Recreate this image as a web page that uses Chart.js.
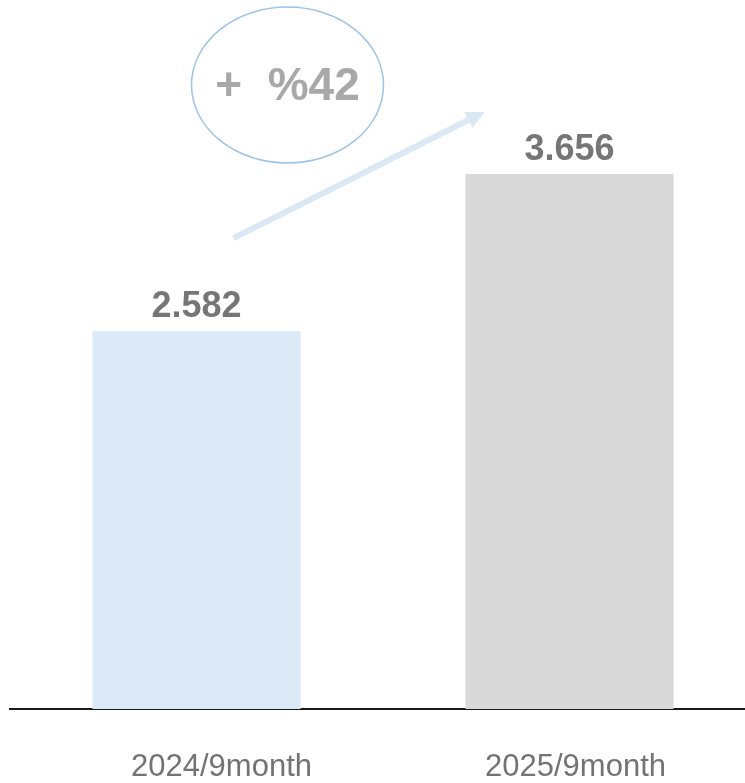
<!DOCTYPE html>
<html lang="en">
<head>
  <meta charset="UTF-8">
  <title>9 month comparison</title>
  <script src="https://cdn.jsdelivr.net/npm/chart.js"></script>
  <style>
    html, body { margin: 0; padding: 0; background: #fff; overflow: hidden; }
    #wrap { width: 756px; height: 783px; }
  </style>
</head>
<body>
  <div id="wrap">
    <canvas id="growthChart" width="756" height="783"></canvas>
  </div>

  <script>
    // chart data
    const periods = ['2024/9month', '2025/9month'];
    const totals = [2582, 3656];
    const barColors = ['#dce9f6', '#d9d9d9'];

    // growth percentage shown in the bubble
    const growth = Math.round((totals[1] / totals[0] - 1) * 100);

    // category labels, value labels, ellipse + arrow annotation
    const annotate = {
      id: 'annotate',
      afterDatasetsDraw(chart) {
        const ctx = chart.ctx;
        const bars = chart.getDatasetMeta(0).data;
        const xScale = chart.scales.x;

        ctx.save();
        ctx.textAlign = 'center';

        // category labels (sit a little right of the bar centres in the original)
        const labelShift = [25, 6];
        ctx.fillStyle = '#737373';
        ctx.font = '31px "Liberation Sans", Arial, sans-serif';
        ctx.textBaseline = 'alphabetic';
        periods.forEach((p, i) => {
          ctx.fillText(p, xScale.getPixelForValue(i) + labelShift[i], chart.chartArea.bottom + 67);
        });

        ctx.fillStyle = '#767676';
        ctx.font = 'bold 36px "Liberation Sans", Arial, sans-serif';
        bars.forEach((bar, i) => {
          ctx.fillText(totals[i].toLocaleString('de-DE'), bar.x, bar.y - 14);
        });

        // arrow from first bar towards second
        const x0 = bars[0].x + 37, y0 = bars[0].y - 93;
        const x1 = bars[1].x - 85, y1 = bars[1].y - 62;
        const ang = Math.atan2(y1 - y0, x1 - x0);
        ctx.strokeStyle = '#dae8f6';
        ctx.fillStyle = '#dae8f6';
        ctx.lineWidth = 6;
        ctx.beginPath();
        ctx.moveTo(x0, y0);
        ctx.lineTo(x1 - 14 * Math.cos(ang), y1 - 14 * Math.sin(ang));
        ctx.stroke();
        ctx.beginPath();
        ctx.moveTo(x1, y1);
        ctx.lineTo(x1 - 18 * Math.cos(ang) + 9 * Math.sin(ang), y1 - 18 * Math.sin(ang) - 9 * Math.cos(ang));
        ctx.lineTo(x1 - 18 * Math.cos(ang) - 9 * Math.sin(ang), y1 - 18 * Math.sin(ang) + 9 * Math.cos(ang));
        ctx.closePath();
        ctx.fill();

        // bubble with growth percentage
        const cx = bars[0].x + 91, cy = 85;
        ctx.strokeStyle = '#9dc3e6';
        ctx.lineWidth = 1.5;
        ctx.beginPath();
        ctx.ellipse(cx, cy, 96, 78, 0, 0, Math.PI * 2);
        ctx.stroke();

        ctx.fillStyle = '#a8a8a8';
        ctx.font = 'bold 46px "Liberation Sans", Arial, sans-serif';
        ctx.fillText('+  %' + growth, cx, 100);
        ctx.restore();
      }
    };

    const ctxGrowth = document.getElementById('growthChart').getContext('2d');
    const growthChart = new Chart(ctxGrowth, {
      type: 'bar',
      data: {
        labels: periods,
        datasets: [{
          data: totals,
          backgroundColor: barColors,
          borderWidth: 0,
          categoryPercentage: 0.558,
          barPercentage: 1
        }]
      },
      options: {
        responsive: false,
        animation: false,
        layout: { padding: { left: 10, right: 0, top: 0, bottom: 0 } },
        plugins: {
          legend: { display: false },
          tooltip: { enabled: false }
        },
        scales: {
          x: {
            grid: { display: false },
            border: { display: true, color: '#1a1a1a', width: 2 },
            afterFit(scale) { scale.height = 74; },
            ticks: { display: false }
          },
          y: {
            display: false,
            min: 0,
            max: 4845
          }
        }
      },
      plugins: [annotate]
    });
  </script>
</body>
</html>
